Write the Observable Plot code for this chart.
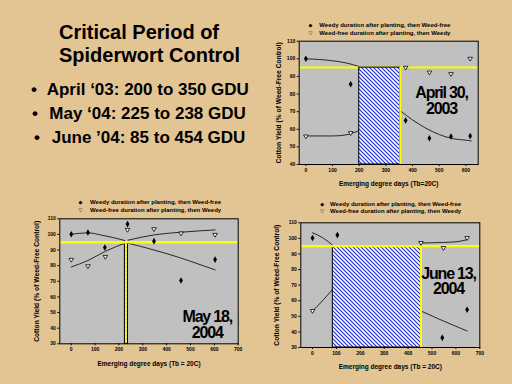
<!DOCTYPE html>
<html><head><meta charset="utf-8">
<script src="https://cdn.jsdelivr.net/npm/d3@7"></script>
<script src="https://cdn.jsdelivr.net/npm/@observablehq/plot@0.6"></script>
<style>
html,body{margin:0;padding:0;}
body{width:512px;height:384px;overflow:hidden;background:#e3c594;position:relative;font-family:Arial,"Liberation Sans",sans-serif;font-weight:bold;color:#000;}
.abs{position:absolute;white-space:nowrap;}
.title{font-size:20px;line-height:20px;}
.bullet{font-size:17px;line-height:17px;}
.leg{font-size:6px;line-height:6px;}
.mk{font-family:"DejaVu Sans",sans-serif;font-size:5px;line-height:6px;}
</style></head><body>
<svg width="0" height="0" style="position:absolute"><defs>
<pattern id="hatch" patternUnits="userSpaceOnUse" width="4" height="4">
<rect width="4" height="4" fill="white"/>
<path d="M-1,-1 L5,5 M-1,3 L1,5 M3,-1 L5,1" stroke="#1f2fd6" stroke-width="1.2"/>
</pattern></defs></svg>
<script>
// ---------- slide text ----------
const titleLines = ["Critical Period of", "Spiderwort Control"];
const bullets = ["April \u201803: 200 to 350 GDU", "May \u201804: 225 to 238 GDU", "June \u201904: 85 to 454 GDU"];
const legendWeedy = "Weedy duration after planting, then Weed-free";
const legendWeedfree = "Weed-free duration after planting, then Weedy";
const yLabel = "Cotton Yield (% of Weed-Free Control)";
const xLabel1 = "Emerging degree days (Tb=20C)";
const xLabel = "Emerging degree days (Tb = 20C)";
const threshold = 95;

// ---------- April 30, 2003 ----------
const aprNote = "April 30,\n2003";
const aprWindow = [200, 354];
const aprXTicks = [0, 100, 200, 300, 400, 500, 600];
const aprYTicks = [40, 50, 60, 70, 80, 90, 100, 110];
const aprWeedyGdu = [0, 168, 374, 463, 544, 616];
const aprWeedyYield = [100, 85.6, 65, 54.9, 55.9, 56.2];
const aprWeedfreeGdu = [0, 168, 374, 463, 544, 616];
const aprWeedfreeYield = [55.9, 57.8, 94.9, 92.2, 91.3, 100];
const aprWeedyFitGdu = [0, 100, 150, 200, 354, 400, 450, 500, 550, 600, 620];
const aprWeedyFitYield = [100, 98.9, 97.7, 95.6, 70.5, 65.3, 60.6, 57, 54.7, 53.8, 53.4];
const aprWeedyFitSeg = [0, 0, 0, 0, 1, 1, 1, 1, 1, 1, 1];
const aprWeedfreeFitGdu = [0, 100, 150, 200, 354, 616];
const aprWeedfreeFitYield = [56.2, 56.2, 56.8, 59.3, 95, 95];
const aprWeedfreeFitSeg = [0, 0, 0, 0, 1, 1];

// ---------- May 18, 2004 ----------
const mayNote = "May 18,\n2004";
const mayWindow = [225, 238];
const mayXTicks = [0, 100, 200, 300, 400, 500, 600, 700];
const mayYTicks = [30, 40, 50, 60, 70, 80, 90, 100, 110];
const mayWeedyGdu = [0, 70, 141, 236, 347, 460, 603];
const mayWeedyYield = [100.1, 101.2, 91.6, 106.6, 95.7, 70.5, 83.9];
const mayWeedfreeGdu = [0, 70, 143, 236, 347, 460, 603];
const mayWeedfreeYield = [83.7, 79.6, 85.6, 102.9, 103.3, 100.6, 99.7];
const mayWeedyFitGdu = [0, 70, 123, 225, 238, 403, 603];
const mayWeedyFitYield = [100.1, 101, 99.7, 96.1, 94.4, 87.6, 77.3];
const mayWeedyFitSeg = [0, 0, 0, 0, 1, 1, 1];
const mayWeedfreeFitGdu = [0, 70, 143, 225, 238, 347, 460, 603];
const mayWeedfreeFitYield = [79.2, 83.3, 89.2, 94.4, 96.3, 99.7, 101.4, 102.9];
const mayWeedfreeFitSeg = [0, 0, 0, 0, 1, 1, 1, 1];

// ---------- June 13, 2004 ----------
const junNote = "June 13,\n2004";
const junWindow = [85, 454];
const junXTicks = [0, 100, 200, 300, 400, 500, 600, 700];
const junYTicks = [30, 40, 50, 60, 70, 80, 90, 100, 110];
const junWeedyGdu = [0, 104, 543, 647];
const junWeedyYield = [100.2, 102.1, 36.2, 54.2];
const junWeedfreeGdu = [0, 454, 548, 647];
const junWeedfreeYield = [53.4, 97, 93.8, 100.2];
const junWeedyFitGdu = [0, 45, 85, 454, 548, 647];
const junWeedyFitYield = [103.6, 100.2, 95.5, 53.4, 47, 40.6];
const junWeedyFitSeg = [0, 0, 0, 1, 1, 1];
const junWeedfreeFitGdu = [0, 45, 85, 454, 544, 600, 647];
const junWeedfreeFitYield = [53.4, 60.5, 67.6, 97, 97.4, 97.8, 99.2];
const junWeedfreeFitSeg = [0, 0, 0, 1, 1, 1, 1];

// ---------- helpers ----------
const zip = (xs, ys, ss) => xs.map((x, i) => ({x, y: ys[i], s: ss ? ss[i] : 0}));
const triangleDown = {
  draw(ctx, size) {
    const r = Math.sqrt(size / Math.PI);
    ctx.moveTo(-r * 1.2, -r * 0.8);
    ctx.lineTo(r * 1.2, -r * 0.8);
    ctx.lineTo(0, r * 1.2);
    ctx.closePath();
  }
};
const YEL = "#ffff00";
const FONT = "Arial, 'Liberation Sans', sans-serif";

function addDiv(cls, text, left, top, extra) {
  const d = document.createElement("div");
  d.className = "abs " + cls;
  d.textContent = text;
  d.style.left = left + "px";
  d.style.top = top + "px";
  if (extra) Object.assign(d.style, extra);
  document.body.appendChild(d);
  return d;
}

function chart(c) {
  const [lo] = c.yDomain;
  const rectMark = Plot.rect([c.win], {x1: d => d[0], x2: d => d[1], y1: lo, y2: threshold, fill: "url(#hatch)", stroke: "black", strokeWidth: 1});
  const hMark = Plot.ruleY([threshold], {stroke: YEL, strokeWidth: c.yw});
  const vMark = Plot.ruleX([c.win[1]], {y1: lo, y2: threshold, stroke: YEL, strokeWidth: 2});
  const marks = [
    Plot.frame({fill: "#c0c0c0"}),
    Plot.axisX({ticks: c.xTicks, tickSize: 2, tickPadding: 1.5, fontSize: 5, label: null}),
    Plot.axisY({ticks: c.yTicks, tickSize: 2, tickPadding: 2, fontSize: 5, label: null}),
    Plot.line(c.weedyFit, {x: "x", y: "y", z: "s", curve: "monotone-x", stroke: "black", strokeWidth: 0.8}),
    Plot.line(c.weedfreeFit, {x: "x", y: "y", z: "s", curve: "monotone-x", stroke: "black", strokeWidth: 0.8}),
  ];
  if (c.order === "hFirst") marks.push(hMark, rectMark);
  else marks.push(rectMark, hMark);
  if (c.inner) marks.push(Plot.rect([c.win], {x1: d => d[0], x2: d => d[1], y1: lo, y2: threshold, fill: "none", stroke: YEL, strokeWidth: 0.8, inset: 1}));
  else marks.push(vMark);
  marks.push(
    Plot.dot(c.weedy, {x: "x", y: "y", symbol: "diamond", r: 2, fill: "black"}),
    Plot.dot(c.weedfree, {x: "x", y: "y", symbol: triangleDown, r: 1.9, fill: "white", stroke: "black", strokeWidth: 0.8}),
    Plot.frame({stroke: "black", strokeWidth: 1}),
    Plot.text([c.note], {text: d => d, frameAnchor: c.noteAnchor, dx: c.noteDx, dy: c.noteDy, fontSize: 16, fontWeight: "bold", textAnchor: "middle", lineAnchor: "middle", lineHeight: 0.98}),
    Plot.text([yLabel], {text: d => d, frameAnchor: "left", dx: c.yLabelDx, rotate: -90, fontSize: 6.7, fontWeight: "bold", textAnchor: "middle", lineAnchor: "middle"}),
    Plot.text([c.xLabel], {text: d => d, frameAnchor: "bottom", dy: c.xLabelDy, fontSize: 6.5, fontWeight: "bold", textAnchor: "middle", lineAnchor: "middle"})
  );
  const svg = Plot.plot({
    width: c.width, height: c.height,
    marginLeft: c.m[0], marginRight: c.m[1], marginTop: c.m[2], marginBottom: c.m[3],
    x: {domain: c.xDomain},
    y: {domain: c.yDomain},
    style: {fontFamily: FONT, fontWeight: "bold", background: "transparent", overflow: "visible", color: "black"},
    marks
  });
  const noteFlat = c.note.replace("\n", "");
  d3.select(svg).selectAll("text").filter(function() { return this.textContent === noteFlat; }).style("letter-spacing", "-1.2px");
  svg.style.position = "absolute";
  svg.style.left = c.left + "px";
  svg.style.top = c.top + "px";
  document.body.appendChild(svg);
}

// ---------- slide title & bullets ----------
addDiv("title", titleLines[0], 59, 22.4);
addDiv("title", titleLines[1], 59, 45.4);
const bulletTops = [81.3, 104.6, 128.9];
const bulletDotX = [31, 32, 34];
const bulletTextX = [46.7, 49.3, 51.7];
bullets.forEach((b, i) => {
  addDiv("bullet", "\u2022", bulletDotX[i], bulletTops[i]);
  addDiv("bullet", b, bulletTextX[i], bulletTops[i]);
});

// ---------- charts ----------
chart({
  left: 262, top: 20, width: 225, height: 175, m: [36.7, 9.3, 20.7, 31],
  xDomain: [-25, 646], yDomain: [40, 110], xTicks: aprXTicks, yTicks: aprYTicks,
  weedy: zip(aprWeedyGdu, aprWeedyYield), weedfree: zip(aprWeedfreeGdu, aprWeedfreeYield),
  weedyFit: zip(aprWeedyFitGdu, aprWeedyFitYield, aprWeedyFitSeg),
  weedfreeFit: zip(aprWeedfreeFitGdu, aprWeedfreeFitYield, aprWeedfreeFitSeg),
  win: aprWindow, order: "hFirst", yw: 2,
  note: aprNote, noteAnchor: "top-right", noteDx: -36.7, noteDy: 60,
  yLabelDx: -20, xLabelDy: 19, xLabel: xLabel1
});
chart({
  left: 20, top: 205, width: 230, height: 170, m: [39.3, 12.3, 13.3, 31.7],
  xDomain: [-48, 700], yDomain: [30, 110], xTicks: mayXTicks, yTicks: mayYTicks,
  weedy: zip(mayWeedyGdu, mayWeedyYield), weedfree: zip(mayWeedfreeGdu, mayWeedfreeYield),
  weedyFit: zip(mayWeedyFitGdu, mayWeedyFitYield, mayWeedyFitSeg),
  weedfreeFit: zip(mayWeedfreeFitGdu, mayWeedfreeFitYield, mayWeedfreeFitSeg),
  win: mayWindow, order: "rectFirst", inner: true, yw: 2.6,
  note: mayNote, noteAnchor: "bottom-right", noteDx: -31, noteDy: -19,
  yLabelDx: -23.3, xLabelDy: 20, xLabel: xLabel
});
chart({
  left: 262, top: 208, width: 225, height: 170, m: [38.3, 7.7, 14.3, 31],
  xDomain: [-49, 700], yDomain: [30, 110], xTicks: junXTicks, yTicks: junYTicks,
  weedy: zip(junWeedyGdu, junWeedyYield), weedfree: zip(junWeedfreeGdu, junWeedfreeYield),
  weedyFit: zip(junWeedyFitGdu, junWeedyFitYield, junWeedyFitSeg),
  weedfreeFit: zip(junWeedfreeFitGdu, junWeedfreeFitYield, junWeedfreeFitSeg),
  win: junWindow, order: "rectFirst", yw: 2.2,
  note: junNote, noteAnchor: "top-right", noteDx: -31.3, noteDy: 58.7,
  yLabelDx: -23.6, xLabelDy: 19, xLabel: xLabel
});

// ---------- legends ----------
const legends = [
  {mx: 311, tx: 319.3, y1: 25, y2: 33},
  {mx: 81, tx: 90, y1: 201.7, y2: 210},
  {mx: 322.7, tx: 330, y1: 204, y2: 211}
];
legends.forEach(l => {
  addDiv("mk", "\u25C6", l.mx - 2.5, l.y1 - 3);
  addDiv("leg", legendWeedy, l.tx, l.y1 - 3);
  addDiv("mk", "\u25BD", l.mx - 2.5, l.y2 - 3);
  addDiv("leg", legendWeedfree, l.tx, l.y2 - 3);
});
</script>
</body></html>
